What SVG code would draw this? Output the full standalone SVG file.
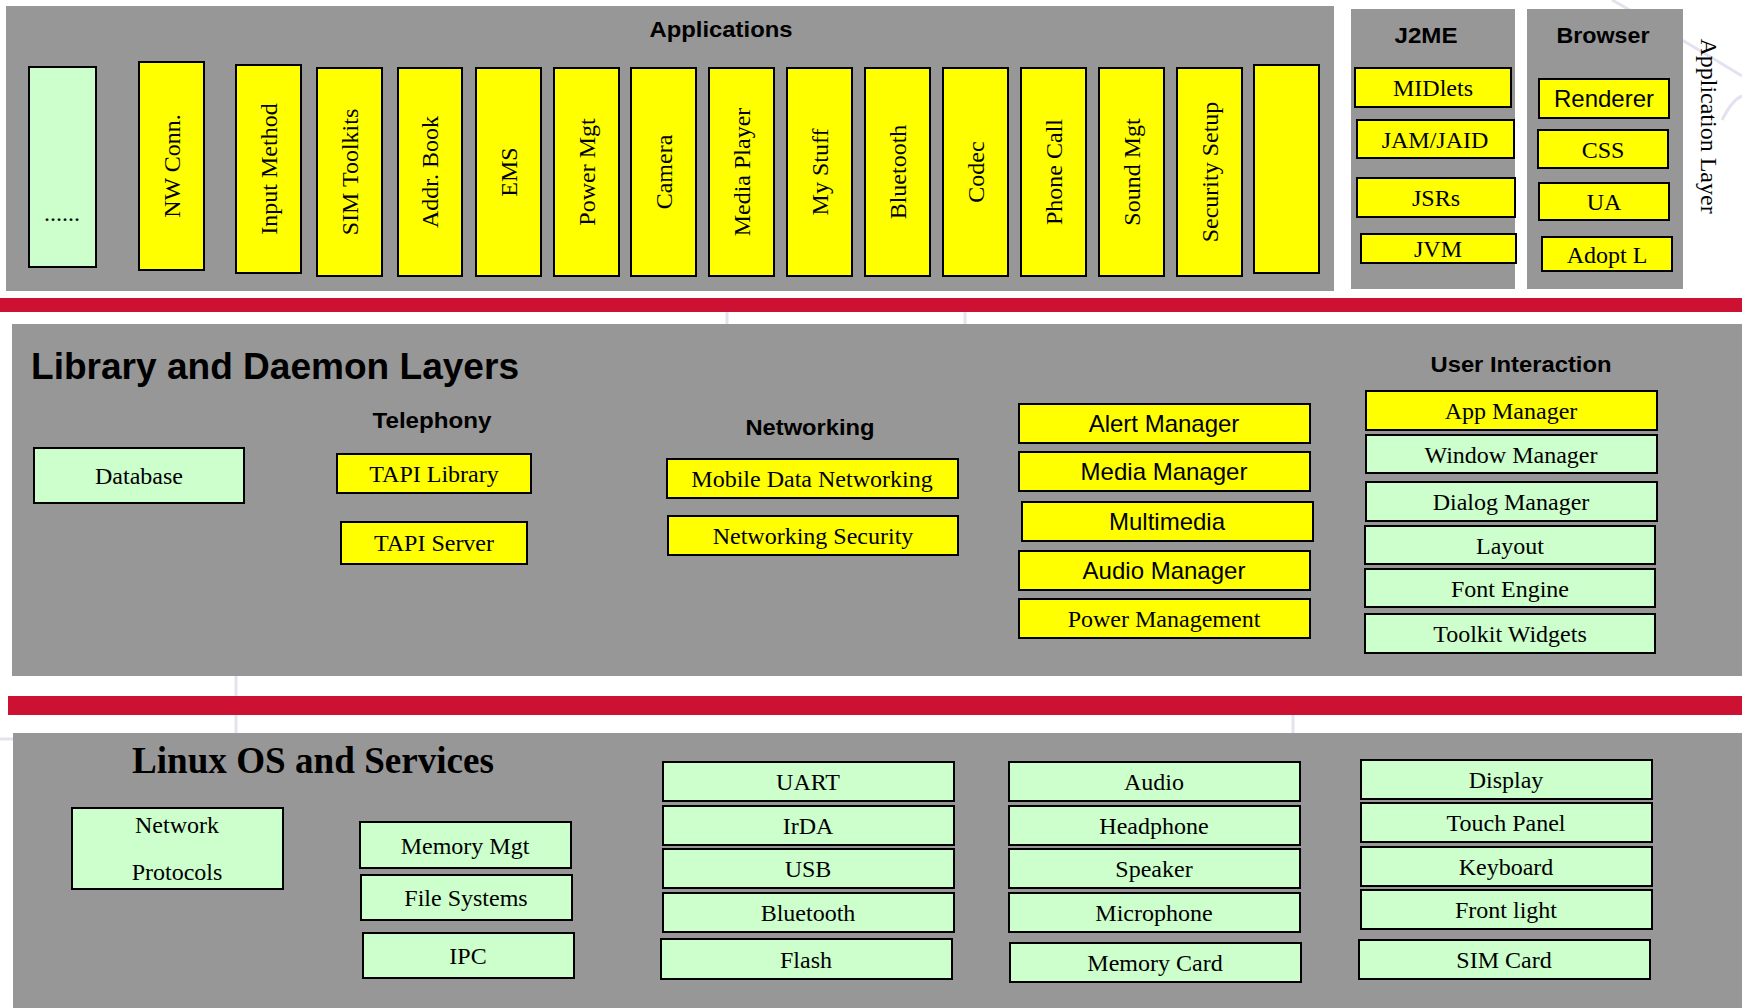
<svg xmlns="http://www.w3.org/2000/svg" width="1742" height="1008" viewBox="0 0 1742 1008">
<style>
.panel{fill:#979797}
.bar{fill:#CD1132}
.deco{fill:none;stroke:#E3E3F0;stroke-width:3}
.y{fill:#FFFF00;stroke:#000;stroke-width:2}
.g{fill:#CCFFCC;stroke:#000;stroke-width:2}
.t{font-family:"Liberation Serif","Times New Roman",serif;font-size:24px;fill:#000;text-anchor:middle}
.s{font-family:"Liberation Sans",Arial,sans-serif;font-size:24px;fill:#000;text-anchor:middle}
.h{font-family:"Liberation Sans",Arial,sans-serif;font-weight:bold;font-size:22px;fill:#000;text-anchor:middle}
.hb{font-family:"Liberation Sans",Arial,sans-serif;font-weight:bold;font-size:36px;fill:#000}
.tb{font-family:"Liberation Serif","Times New Roman",serif;font-weight:bold;font-size:37px;fill:#000}
</style>
<rect width="1742" height="1008" fill="#FFFFFF"/>
<g id="background">
<path class="deco" d="M1612,0 Q1680,38 1742,76"/>
<path class="deco" d="M1722,120 Q1732,100 1742,96"/>
<path class="deco" d="M236,676 L236,733"/>
<path class="deco" d="M727,312 L727,324"/>
<path class="deco" d="M965,312 L965,324"/>
<path class="deco" d="M1293,715 L1293,733"/>
<path class="deco" d="M0,739 L13,739"/>
<rect class="panel" x="6" y="6" width="1328" height="285"/>
<rect class="panel" x="1351" y="9" width="164" height="280"/>
<rect class="panel" x="1527" y="9" width="156" height="280"/>
<rect class="bar" x="0" y="298" width="1742" height="14"/>
<rect class="panel" x="12" y="324" width="1730" height="352"/>
<rect class="bar" x="8" y="696" width="1734" height="19"/>
<rect class="panel" x="13" y="733" width="1729" height="275"/>
<text class="h" x="721" y="37" textLength="143" lengthAdjust="spacingAndGlyphs">Applications</text>
<text class="h" x="1426" y="43" textLength="63" lengthAdjust="spacingAndGlyphs">J2ME</text>
<text class="h" x="1603" y="43" textLength="93" lengthAdjust="spacingAndGlyphs">Browser</text>
<text class="t" transform="translate(1701,126) rotate(90)">Application Layer</text>
<text class="hb" x="31" y="379" textLength="488" lengthAdjust="spacingAndGlyphs">Library and Daemon Layers</text>
<text class="h" x="432" y="428" textLength="119" lengthAdjust="spacingAndGlyphs">Telephony</text>
<text class="h" x="810" y="435" textLength="129" lengthAdjust="spacingAndGlyphs">Networking</text>
<text class="h" x="1521" y="372" textLength="181" lengthAdjust="spacingAndGlyphs">User Interaction</text>
<text class="tb" x="132" y="773" textLength="362" lengthAdjust="spacingAndGlyphs">Linux OS and Services</text>
</g>
<g id="connectors"></g>
<g id="apps">
<g id="app-more"><rect class="g" x="29" y="67" width="67" height="200"/><text class="t" x="62" y="221">......</text></g>
<g id="app-nwconn"><rect class="y" x="139" y="62" width="65" height="208"/><text class="t" transform="translate(180,166) rotate(-90)">NW Conn.</text></g>
<g id="app-input"><rect class="y" x="236" y="65" width="65" height="208"/><text class="t" transform="translate(277,169) rotate(-90)">Input Method</text></g>
<g id="app-sim"><rect class="y" x="317" y="68" width="65" height="208"/><text class="t" transform="translate(358,172) rotate(-90)">SIM Toolkits</text></g>
<g id="app-addr"><rect class="y" x="398" y="68" width="64" height="208"/><text class="t" transform="translate(438,172) rotate(-90)">Addr. Book</text></g>
<g id="app-ems"><rect class="y" x="476" y="68" width="65" height="208"/><text class="t" transform="translate(517,172) rotate(-90)">EMS</text></g>
<g id="app-power"><rect class="y" x="554" y="68" width="65" height="208"/><text class="t" transform="translate(595,172) rotate(-90)">Power Mgt</text></g>
<g id="app-camera"><rect class="y" x="631" y="68" width="65" height="208"/><text class="t" transform="translate(672,172) rotate(-90)">Camera</text></g>
<g id="app-media"><rect class="y" x="709" y="68" width="65" height="208"/><text class="t" transform="translate(750,172) rotate(-90)">Media Player</text></g>
<g id="app-mystuff"><rect class="y" x="787" y="68" width="65" height="208"/><text class="t" transform="translate(828,172) rotate(-90)">My Stuff</text></g>
<g id="app-bluetooth"><rect class="y" x="865" y="68" width="65" height="208"/><text class="t" transform="translate(906,172) rotate(-90)">Bluetooth</text></g>
<g id="app-codec"><rect class="y" x="943" y="68" width="65" height="208"/><text class="t" transform="translate(984,172) rotate(-90)">Codec</text></g>
<g id="app-phone"><rect class="y" x="1021" y="68" width="65" height="208"/><text class="t" transform="translate(1062,172) rotate(-90)">Phone Call</text></g>
<g id="app-sound"><rect class="y" x="1099" y="68" width="65" height="208"/><text class="t" transform="translate(1140,172) rotate(-90)">Sound Mgt</text></g>
<g id="app-security"><rect class="y" x="1177" y="68" width="65" height="208"/><text class="t" transform="translate(1218,172) rotate(-90)">Security Setup</text></g>
<g id="app-blank"><rect class="y" x="1254" y="65" width="65" height="208"/></g>
</g>
<g id="j2me">
<g id="midlets"><rect class="y" x="1355" y="68" width="156" height="39"/><text class="t" x="1433" y="96">MIDlets</text></g>
<g id="jam"><rect class="y" x="1357" y="120" width="157" height="38"/><text class="t" x="1435" y="148">JAM/JAID</text></g>
<g id="jsrs"><rect class="y" x="1357" y="178" width="158" height="39"/><text class="t" x="1436" y="206">JSRs</text></g>
<g id="jvm"><rect class="y" x="1361" y="234" width="155" height="29"/><text class="t" x="1438" y="257">JVM</text></g>
</g>
<g id="browser">
<g id="renderer"><rect class="y" x="1539" y="79" width="130" height="39"/><text class="s" x="1604" y="107">Renderer</text></g>
<g id="css"><rect class="y" x="1538" y="130" width="130" height="38"/><text class="t" x="1603" y="158">CSS</text></g>
<g id="ua"><rect class="y" x="1539" y="183" width="130" height="37"/><text class="t" x="1604" y="210">UA</text></g>
<g id="adopt"><rect class="y" x="1542" y="237" width="130" height="34"/><text class="t" x="1607" y="263">Adopt L</text></g>
</g>
<g id="library">
<g id="database"><rect class="g" x="34" y="448" width="210" height="55"/><text class="t" x="139" y="484">Database</text></g>
<g id="tapi-lib"><rect class="y" x="337" y="454" width="194" height="39"/><text class="t" x="434" y="482">TAPI Library</text></g>
<g id="tapi-srv"><rect class="y" x="341" y="522" width="186" height="42"/><text class="t" x="434" y="551">TAPI Server</text></g>
<g id="mobile-data"><rect class="y" x="667" y="459" width="291" height="39"/><text class="t" x="812" y="487">Mobile Data Networking</text></g>
<g id="net-sec"><rect class="y" x="668" y="516" width="290" height="39"/><text class="t" x="813" y="544">Networking Security</text></g>
<g id="alert"><rect class="y" x="1019" y="404" width="291" height="39"/><text class="s" x="1164" y="432">Alert Manager</text></g>
<g id="media-mgr"><rect class="y" x="1019" y="452" width="291" height="39"/><text class="s" x="1164" y="480">Media Manager</text></g>
<g id="multimedia"><rect class="y" x="1022" y="502" width="291" height="39"/><text class="s" x="1167" y="530">Multimedia</text></g>
<g id="audio-mgr"><rect class="y" x="1019" y="551" width="291" height="39"/><text class="s" x="1164" y="579">Audio Manager</text></g>
<g id="power-mgmt"><rect class="y" x="1019" y="599" width="291" height="39"/><text class="t" x="1164" y="627">Power Management</text></g>
<g id="app-mgr"><rect class="y" x="1366" y="391" width="291" height="39"/><text class="t" x="1511" y="419">App Manager</text></g>
<g id="window-mgr"><rect class="g" x="1366" y="435" width="291" height="38"/><text class="t" x="1511" y="463">Window Manager</text></g>
<g id="dialog-mgr"><rect class="g" x="1366" y="482" width="291" height="39"/><text class="t" x="1511" y="510">Dialog Manager</text></g>
<g id="layout"><rect class="g" x="1365" y="526" width="290" height="38"/><text class="t" x="1510" y="554">Layout</text></g>
<g id="font-engine"><rect class="g" x="1365" y="569" width="290" height="38"/><text class="t" x="1510" y="597">Font Engine</text></g>
<g id="toolkit"><rect class="g" x="1365" y="614" width="290" height="39"/><text class="t" x="1510" y="642">Toolkit Widgets</text></g>
</g>
<g id="os">
<g id="net-proto"><rect class="g" x="72" y="808" width="211" height="81"/><text class="t" x="177" y="833">Network</text><text class="t" x="177" y="880">Protocols</text></g>
<g id="mem-mgt"><rect class="g" x="360" y="822" width="211" height="46"/><text class="t" x="465" y="854">Memory Mgt</text></g>
<g id="fs"><rect class="g" x="361" y="875" width="211" height="45"/><text class="t" x="466" y="906">File Systems</text></g>
<g id="ipc"><rect class="g" x="363" y="933" width="211" height="45"/><text class="t" x="468" y="964">IPC</text></g>
<g id="uart"><rect class="g" x="663" y="762" width="291" height="39"/><text class="t" x="808" y="790">UART</text></g>
<g id="irda"><rect class="g" x="663" y="806" width="291" height="39"/><text class="t" x="808" y="834">IrDA</text></g>
<g id="usb"><rect class="g" x="663" y="849" width="291" height="39"/><text class="t" x="808" y="877">USB</text></g>
<g id="bt"><rect class="g" x="663" y="893" width="291" height="39"/><text class="t" x="808" y="921">Bluetooth</text></g>
<g id="flash"><rect class="g" x="661" y="939" width="291" height="40"/><text class="t" x="806" y="968">Flash</text></g>
<g id="audio"><rect class="g" x="1009" y="762" width="291" height="39"/><text class="t" x="1154" y="790">Audio</text></g>
<g id="headphone"><rect class="g" x="1009" y="806" width="291" height="39"/><text class="t" x="1154" y="834">Headphone</text></g>
<g id="speaker"><rect class="g" x="1009" y="849" width="291" height="39"/><text class="t" x="1154" y="877">Speaker</text></g>
<g id="mic"><rect class="g" x="1009" y="893" width="291" height="39"/><text class="t" x="1154" y="921">Microphone</text></g>
<g id="memcard"><rect class="g" x="1010" y="943" width="291" height="39"/><text class="t" x="1155" y="971">Memory Card</text></g>
<g id="display"><rect class="g" x="1361" y="760" width="291" height="39"/><text class="t" x="1506" y="788">Display</text></g>
<g id="touch"><rect class="g" x="1361" y="803" width="291" height="39"/><text class="t" x="1506" y="831">Touch Panel</text></g>
<g id="keyboard"><rect class="g" x="1361" y="847" width="291" height="39"/><text class="t" x="1506" y="875">Keyboard</text></g>
<g id="frontlight"><rect class="g" x="1361" y="890" width="291" height="39"/><text class="t" x="1506" y="918">Front light</text></g>
<g id="simcard"><rect class="g" x="1359" y="940" width="291" height="39"/><text class="t" x="1504" y="968">SIM Card</text></g>
</g>
</svg>
